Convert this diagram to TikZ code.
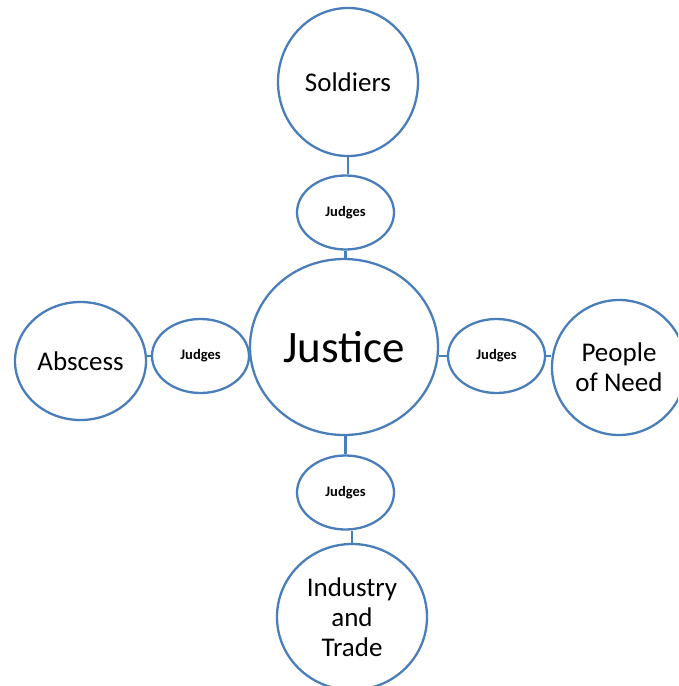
\documentclass[tikz,border=0pt]{standalone}
\usepackage{fontspec}
\setmainfont{Carlito}
\usetikzlibrary{shapes.geometric}
\definecolor{ofblue}{HTML}{4A7EBB}
\tikzset{
  bubble/.style={ellipse, draw=ofblue, line width=2.3pt, fill=white, inner sep=0pt, align=center},
  judge/.style={bubble, minimum width=97pt, minimum height=74pt, font=\fontsize{14.5}{16}\selectfont\bfseries},
  big/.style={bubble, font=\fontsize{27}{30}\selectfont},
  link/.style={draw=ofblue, line width=2.3pt}
}
\begin{document}
\begin{tikzpicture}[x=1pt,y=-1pt]
\useasboundingbox (0,0) rectangle (678,686);
\clip (0,0) rectangle (678,686);
\fill[white] (0,0) rectangle (678,686);
\node[bubble, minimum width=188pt, minimum height=176pt, font=\fontsize{45}{50}\selectfont] (just) at (344,347) {Justice};
\node[big, minimum width=140pt, minimum height=148pt] (sold) at (348,82) {Soldiers};
\node[judge] (jt) at (345.5,212.5) {Judges};
\node[big, minimum width=131pt, minimum height=118pt] (absc) at (80.5,361) {Abscess};
\node[judge] (jl) at (200.5,356) {Judges};
\node[judge] (jr) at (496.5,356) {Judges};
\node[big, minimum width=134pt, minimum height=135pt] (peop) at (619,367.5) {People\\of Need};
\node[judge] (jb) at (345.5,492.5) {Judges};
\node[big, minimum width=150pt, minimum height=146pt] (indu) at (352,617) {Industry\\and\\Trade};
\draw[link] (sold.south) -- (sold.south |- jt.north);
\draw[link] (jt.south) -- (jt.south |- just.north);
\draw[link] (absc.east |- jl.west) -- (jl.west);
\draw[link] (jl.east) -- (jl.east -| just.west);
\draw[link] (jr.west -| just.east) -- (jr.west);
\draw[link] (jr.east) -- (jr.east -| peop.west);
\draw[link] (jb.north |- just.south) -- (jb.north);
\draw[link] (indu.north |- jb.south) -- (indu.north);
\end{tikzpicture}
\end{document}
